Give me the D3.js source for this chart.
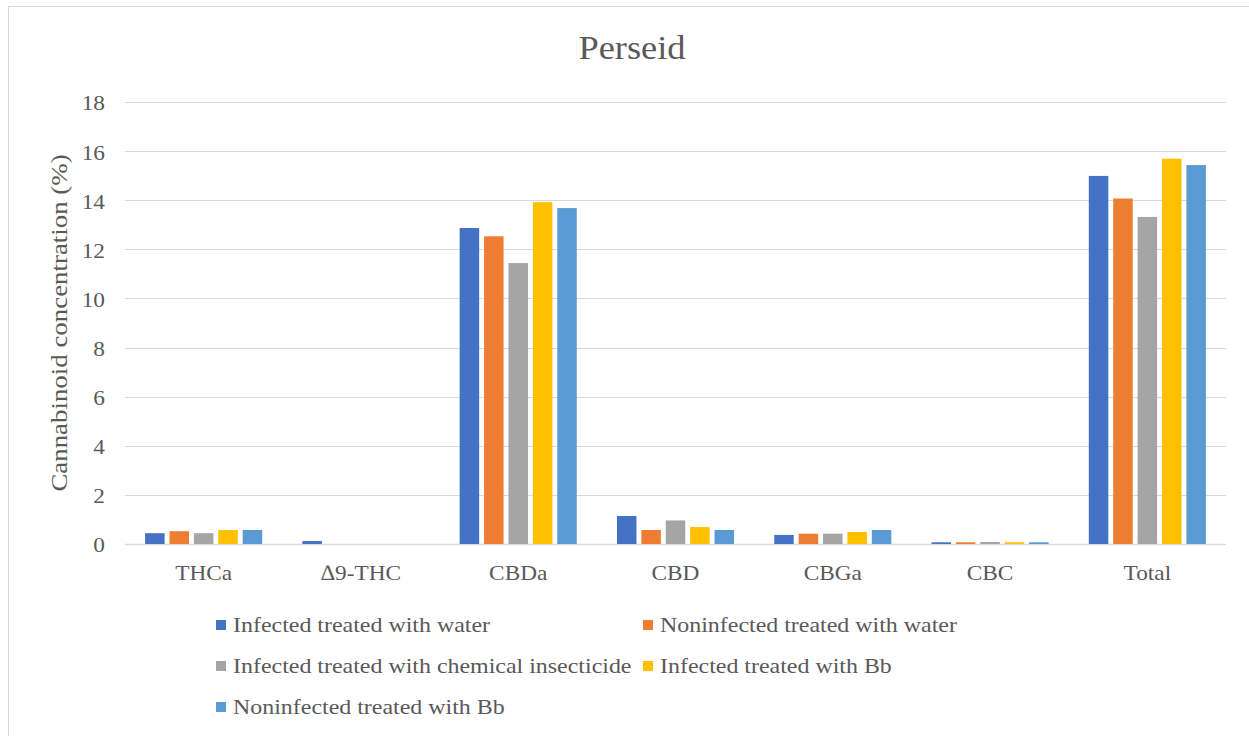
<!DOCTYPE html>
<html>
<head>
<meta charset="utf-8">
<script src="https://cdn.jsdelivr.net/npm/d3@7"></script>
<style>
  html, body { margin: 0; padding: 0; background: #fff; }
  svg { display: block; }
  text { font-family: "Liberation Serif", "Times New Roman", serif; fill: #595959; }
</style>
</head>
<body>
<svg id="chart" width="1249" height="736"></svg>
<script>
const categories = ["THCa", "\u22069-THC", "CBDa", "CBD", "CBGa", "CBC", "Total"];
const seriesNames = [
  "Infected treated with water",
  "Noninfected treated with water",
  "Infected treated with chemical insecticide",
  "Infected treated with Bb",
  "Noninfected treated with Bb"
];
const infectedWater      = [0.44, 0.12, 12.87, 1.14, 0.37, 0.07, 14.99];
const noninfectedWater   = [0.52, 0.00, 12.53, 0.57, 0.42, 0.07, 14.07];
const infectedChemical   = [0.44, 0.00, 11.44, 0.96, 0.42, 0.08, 13.32];
const infectedBb         = [0.57, 0.00, 13.92, 0.69, 0.49, 0.07, 15.69];
const noninfectedBb      = [0.57, 0.00, 13.68, 0.57, 0.57, 0.07, 15.43];
const seriesValues = [infectedWater, noninfectedWater, infectedChemical, infectedBb, noninfectedBb];
const colors = ["#4472C4", "#ED7D31", "#A5A5A5", "#FFC000", "#5B9BD5"];
const yTicks = [0, 2, 4, 6, 8, 10, 12, 14, 16, 18];

const svg = d3.select("#chart");

// chart frame
svg.append("rect").attr("x", 8.5).attr("y", 6.5).attr("width", 1260).attr("height", 760)
  .attr("fill", "none").attr("stroke", "#d9d9d9").attr("stroke-width", 1);

const plot = {left: 125, right: 1226, top: 102, bottom: 544};

const x = d3.scaleBand().domain(categories).range([plot.left, plot.right]).paddingInner(0).paddingOuter(0);
const y = d3.scaleLinear().domain([0, 18]).range([plot.bottom, plot.top]);

// gridlines
svg.append("g").selectAll("line").data(yTicks).join("line")
  .attr("x1", plot.left).attr("x2", plot.right)
  .attr("y1", d => Math.round(y(d)) + 0.5).attr("y2", d => Math.round(y(d)) + 0.5)
  .attr("stroke", "#d9d9d9").attr("stroke-width", d => d === 0 ? 1.5 : 1.2);

// y axis tick labels
const yAxis = d3.axisLeft(y).tickValues(yTicks).tickSize(0).tickPadding(0);
const yg = svg.append("g").attr("transform", `translate(105,0)`).call(yAxis);
yg.select(".domain").remove();
yg.selectAll("text").style("font-size", "22px").attr("fill", "#595959")
  .style("font-family", "'Liberation Serif', serif").attr("dy", "0.36em")
  .attr("transform", "scale(1.06,1)");

// bars
const nS = seriesNames.length;
const barW = 19.5, step = 24.4;
const inner = d3.scaleBand().domain(d3.range(nS)).range([0, step * nS]);
seriesValues.forEach((vals, si) => {
  svg.append("g").selectAll("rect").data(vals).join("rect")
    .attr("x", (d, i) => x(categories[i]) + x.bandwidth() / 2 - (step * nS) / 2 + inner(si) + (step - barW) / 2)
    .attr("width", barW)
    .attr("y", d => y(d))
    .attr("height", d => y(0) - y(d))
    .attr("fill", colors[si]);
});

// x axis labels
const xAxis = d3.axisBottom(x).tickSize(0).tickPadding(0);
const xg = svg.append("g").attr("transform", `translate(0,580)`).call(xAxis);
xg.select(".domain").remove();
xg.selectAll("text").style("font-size", "22px").attr("fill", "#595959")
  .style("font-family", "'Liberation Serif', serif").attr("dy", "0")
  .attr("transform", "scale(1.06,1)");

// title
svg.append("text").attr("transform", "translate(632,59) scale(1.07,1)").attr("text-anchor", "middle")
  .style("font-size", "34px").text("Perseid");

// y label
svg.append("text").attr("transform", `translate(67,323) rotate(-90) scale(1.12,1)`).attr("text-anchor", "middle")
  .style("font-size", "24px").text("Cannabinoid concentration (%)");

// legend
const legendPos = [
  {x: 216, y: 625}, {x: 643, y: 625},
  {x: 216, y: 666}, {x: 643, y: 666},
  {x: 216, y: 707}
];
const lg = svg.append("g").selectAll("g").data(seriesNames).join("g")
  .attr("transform", (d, i) => `translate(${legendPos[i].x},${legendPos[i].y})`);
lg.append("rect").attr("x", 0).attr("y", -5).attr("width", 10).attr("height", 10)
  .attr("fill", (d, i) => colors[i]);
lg.append("text").attr("transform", "translate(17,7) scale(1.14,1)")
  .style("font-size", "21px").text(d => d);
</script>
</body>
</html>
